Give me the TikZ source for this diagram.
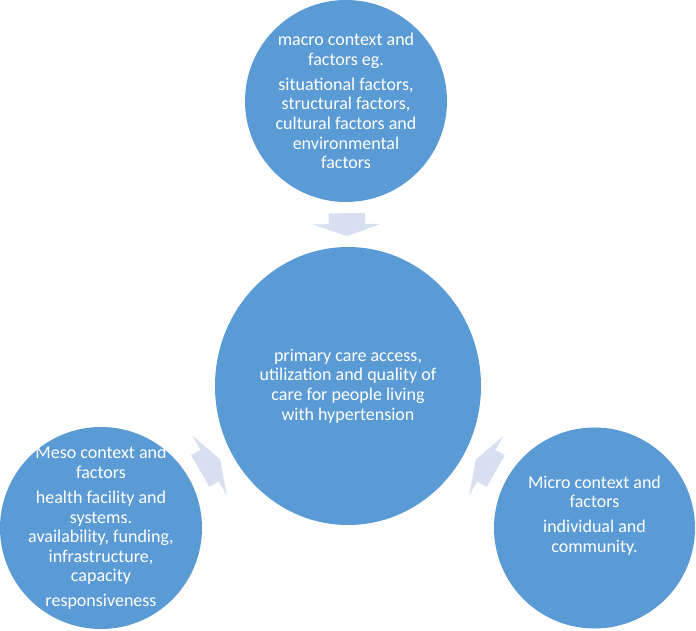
\documentclass[tikz,border=0pt]{standalone}
\usepackage{fontspec}
\setmainfont{Carlito}
\usepackage{tikz}
\usetikzlibrary{shapes.geometric,shapes.arrows,calc}
\definecolor{BubbleBlue}{RGB}{91,155,213}
\definecolor{ArrowTint}{RGB}{214,224,241}
\tikzset{
  bubble/.style  ={circle, fill=BubbleBlue, draw=none, inner sep=0pt, minimum size=202pt},
  bubtext/.style ={text=white, align=center, inner sep=0pt,
                   font=\fontsize{18}{19.6}\selectfont},
  inarrow/.style ={single arrow, fill=ArrowTint, draw=none, sloped, allow upside down,
                   inner xsep=0pt, inner ysep=18pt, minimum height=23pt, minimum width=68pt,
                   single arrow head extend=16pt, single arrow tip angle=141, anchor=tail},
}

\begin{document}
\begin{tikzpicture}[x=1pt,y=1pt]
  \useasboundingbox (0,0) rectangle (696,630);

  \node[bubble] (macro) at (346,529) {};
  \node[bubble, ellipse, minimum width=266pt, minimum height=278pt] (hub) at (348,244) {};
  \node[bubble] (meso) at (101,102) {};
  \node[bubble, minimum size=201pt] (micro) at (594.5,102) {};

  \foreach \src in {macro,meso,micro}{
    \path (\src) -- coordinate[midway] (mid-\src) (hub);
    \path ($(mid-\src)!11.5pt!(\src)$) -- node[inarrow, pos=0] (arr-\src) {} (mid-\src);
  }

  \node[bubtext] (macrotext) at (macro) {macro context and\\ factors eg.\\[5.5pt]
    situational factors,\\ structural factors,\\ cultural factors and\\ environmental\\ factors};
  \node[bubtext] (hubtext) at (hub) {primary care access,\\ utilization and quality of\\
    care for people living\\ with hypertension};
  \node[bubtext] (mesotext) at (meso) {Meso context and\\ factors\\[5.5pt]
    health facility and\\ systems.\\ availability, funding,\\ infrastructure,\\ capacity\\[5.5pt]
    responsiveness};
  \node[bubtext] (microtext) at ([yshift=12.5pt]micro.center) {Micro context and\\ factors\\[5.5pt]
    individual and\\ community.};
\end{tikzpicture}
\end{document}
